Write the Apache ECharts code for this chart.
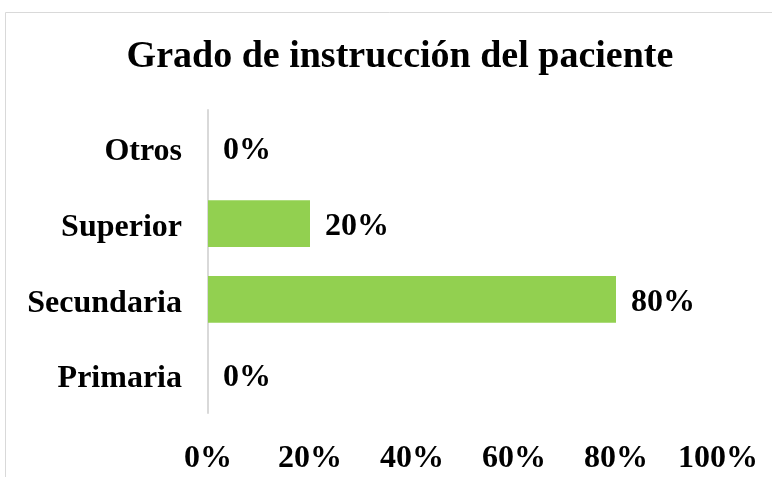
<!DOCTYPE html>
<html lang="es">
<head>
    <meta charset="UTF-8">
    <title>Grado de instrucción del paciente</title>
    <script src="https://cdn.jsdelivr.net/npm/echarts@6/dist/echarts.min.js"></script>
    <style>
        html, body { margin: 0; padding: 0; background: #fff; }
        #main { width: 772px; height: 477px; }
    </style>
</head>
<body>
<div id="main"></div>
<script type="text/javascript">
    // datos del gráfico
    var categorias = ['Primaria', 'Secundaria', 'Superior', 'Otros'];
    var valores = [0, 0.8, 0.2, 0];
    var ticksX = [0, 0.2, 0.4, 0.6, 0.8, 1];

    var fuente = "'Liberation Serif', 'Times New Roman', serif";
    var pct = function (v) { return Math.round(v * 100) + '%'; };

    var myChart = echarts.init(document.getElementById('main'));
    var option = {
        backgroundColor: '#fff',
        animation: false,
        title: {
            text: 'Grado de instrucción del paciente',
            left: 395,
            textAlign: 'center',
            top: 33,
            textStyle: { fontFamily: fuente, fontSize: 38, fontWeight: 'bold', color: '#000' }
        },
        graphic: [{
            type: 'rect',
            shape: { x: 5.5, y: 12.5, width: 820, height: 520 },
            style: { fill: 'none', stroke: '#d9d9d9', lineWidth: 1 },
            silent: true
        }],
        grid: { left: 208, right: 54, top: 110, bottom: 64 },
        xAxis: {
            type: 'value',
            min: ticksX[0],
            max: ticksX[ticksX.length - 1],
            interval: 0.2,
            axisLine: { show: false },
            axisTick: { show: false },
            splitLine: { show: false },
            axisLabel: {
                margin: 30,
                formatter: pct,
                fontFamily: fuente, fontSize: 32, fontWeight: 'bold', color: '#000'
            }
        },
        yAxis: {
            type: 'category',
            data: categorias,
            axisLine: { show: true, lineStyle: { color: '#d9d9d9', width: 2 } },
            axisTick: { show: false },
            axisLabel: {
                margin: 26,
                formatter: function (v) { return '{c|' + v + '}'; },
                rich: {
                    c: { padding: [8, 0, 0, 0], fontFamily: fuente, fontSize: 32, fontWeight: 'bold', color: '#000' }
                }
            }
        },
        series: [{
            type: 'bar',
            data: valores,
            barCategoryGap: '38%',
            itemStyle: { color: '#92D050' },
            label: {
                show: true,
                position: 'right',
                distance: 15,
                offset: [0, 3],
                formatter: function (p) { return pct(p.value); },
                fontFamily: fuente, fontSize: 32, fontWeight: 'bold', color: '#000'
            }
        }]
    };
    myChart.setOption(option);
</script>
</body>
</html>
